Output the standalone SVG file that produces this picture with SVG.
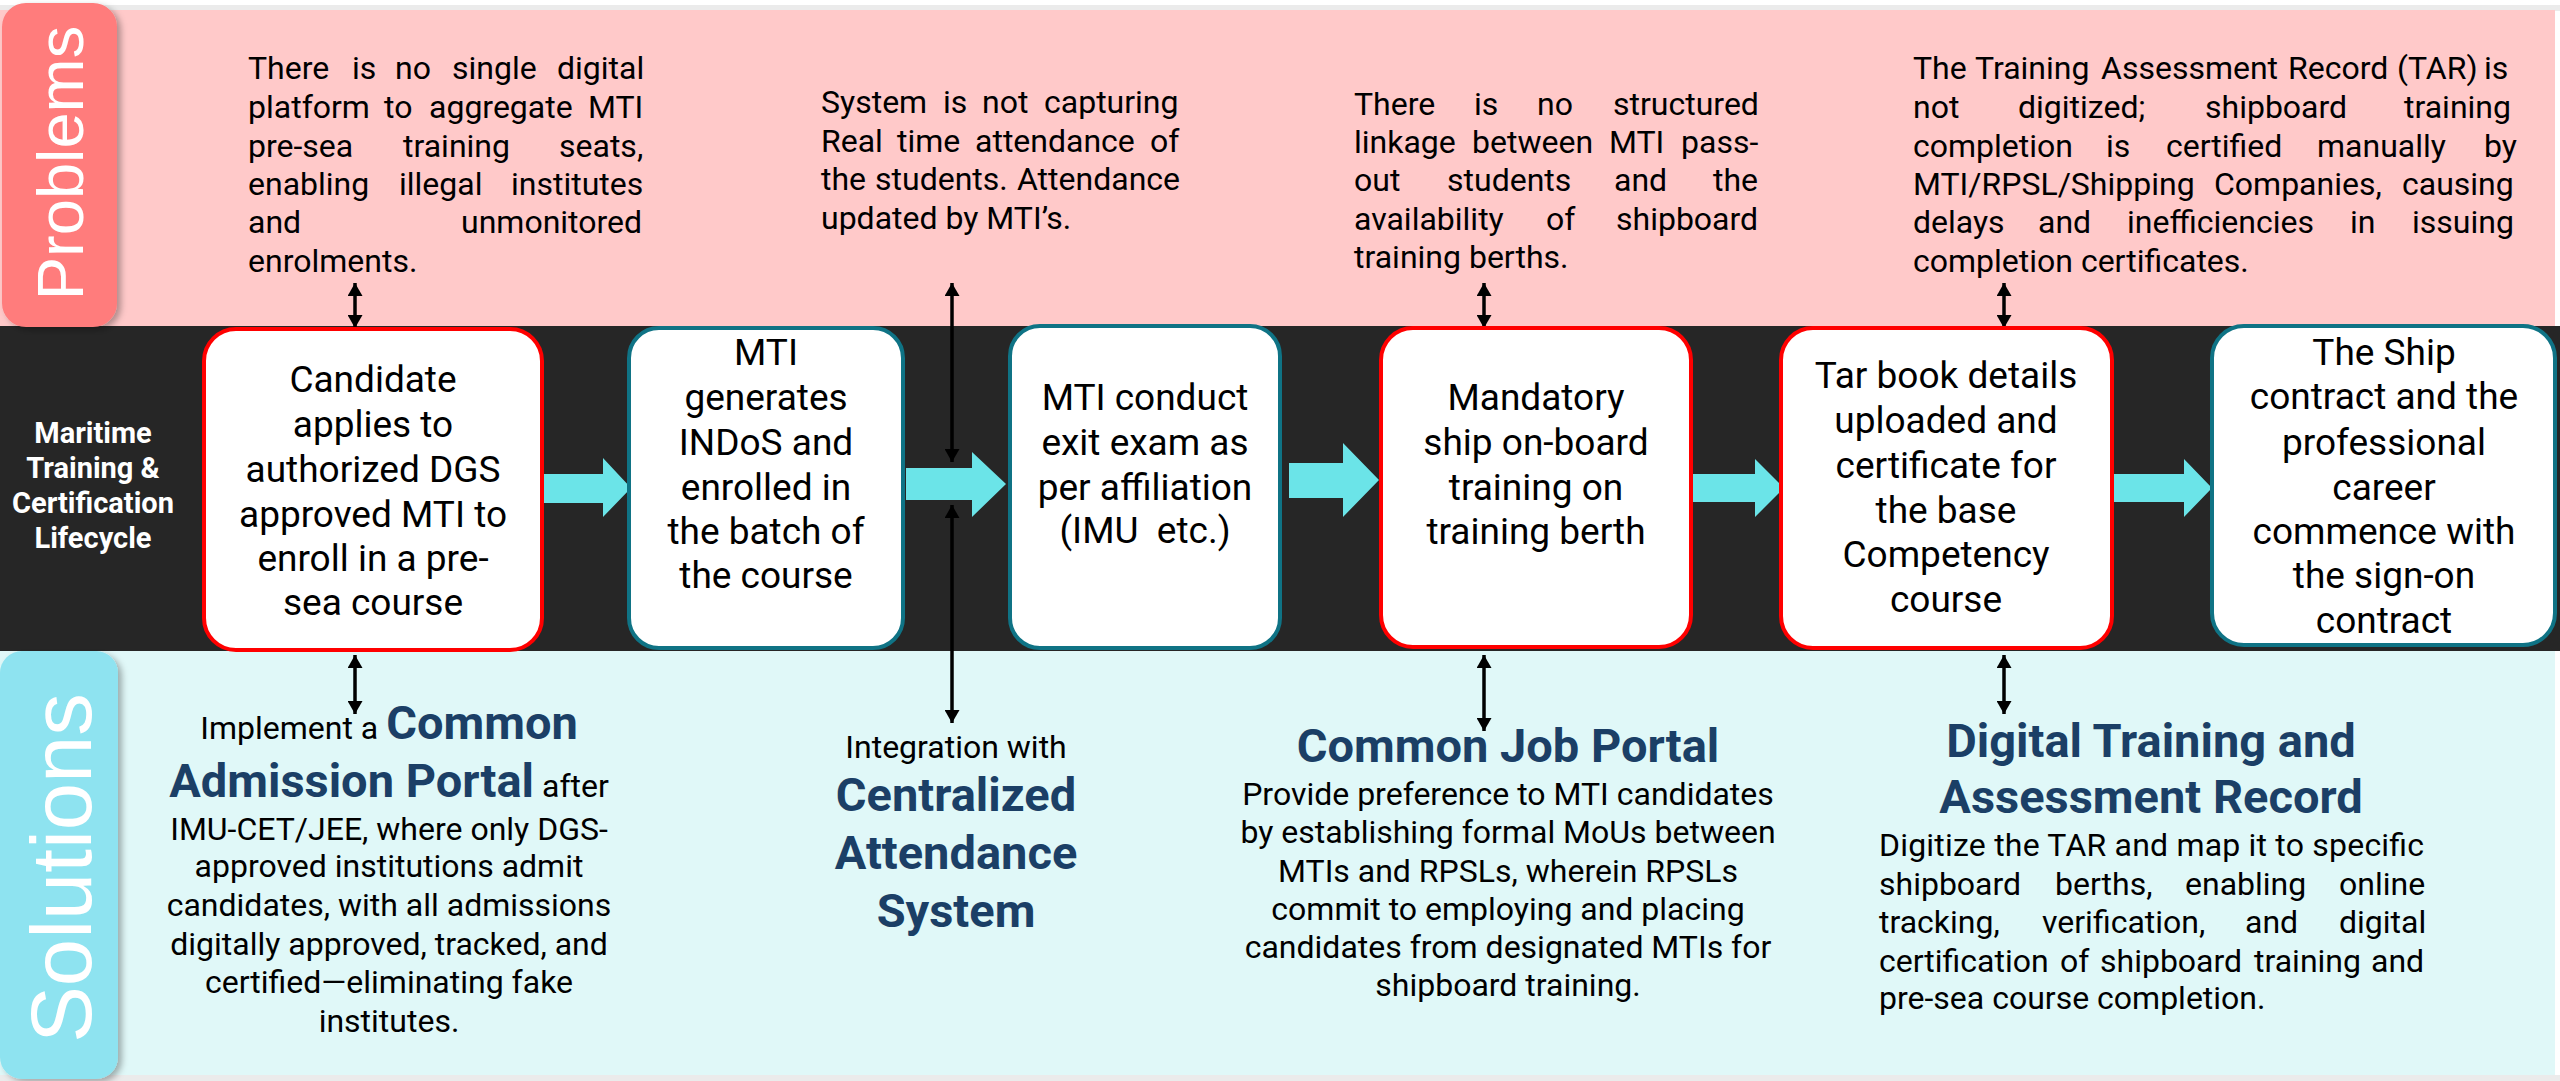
<svg xmlns="http://www.w3.org/2000/svg" width="2560" height="1081" viewBox="0 0 2560 1081">
<defs>
<style>
.reg{font-family:Roboto,"Liberation Sans",sans-serif;font-size:32px;font-weight:normal;fill:#000}
.box{font-family:Roboto,"Liberation Sans",sans-serif;font-size:37px;fill:#000;text-anchor:middle}
.ttl{font-family:Roboto,"Liberation Sans",sans-serif;font-size:47px;font-weight:bold;fill:#1B3F66}
.mid{text-anchor:middle}
.lbl{font-family:Roboto,"Liberation Sans",sans-serif;font-size:29px;font-weight:bold;fill:#fff;text-anchor:middle}
.tab{font-family:"Liberation Sans",Arial,sans-serif;fill:#fff;text-anchor:middle}
.redb{fill:#fff;stroke:#FF0000;stroke-width:4}
.tealb{fill:#fff;stroke:#0F7385;stroke-width:4}
.flow{fill:#6BE4E8}
.vc{stroke:#000;stroke-width:3.5;fill:none;marker-start:url(#ah);marker-end:url(#ah)}
</style>
<marker id="ah" viewBox="0 0 13 15" refX="13" refY="7.5" markerWidth="13" markerHeight="15" markerUnits="userSpaceOnUse" orient="auto-start-reverse">
<path d="M0,0 L13,7.5 L0,15 z" fill="#000"/>
</marker>
<filter id="sh" x="-20%" y="-20%" width="140%" height="140%">
<feDropShadow dx="4" dy="3" stdDeviation="3" flood-color="#000" flood-opacity="0.3"/>
</filter>
</defs>

<rect x="0" y="0" width="2560" height="1081" fill="#fff"/>
<rect x="0" y="5" width="2560" height="6" fill="#EBEBEB"/>
<rect x="0" y="1075" width="2560" height="6" fill="#EBEBEB"/>

<g id="bands">
<rect x="0" y="10" width="2555" height="318" fill="#FFC9C9"/>
<rect x="0" y="326" width="2560" height="325" fill="#262626"/>
<rect x="0" y="651" width="2555" height="424" fill="#E0F8F8"/>
</g>

<g id="problems-tab">
<rect x="2" y="3" width="115" height="324" rx="24" fill="#FF7B7B" filter="url(#sh)"/>
<text class="tab" font-size="65" transform="translate(83,163) rotate(-90)">Problems</text>
</g>
<g id="solutions-tab">
<rect x="0" y="651" width="118" height="428" rx="22" fill="#8EE3F0" filter="url(#sh)"/>
<text class="tab" font-size="85" transform="translate(91,868) rotate(-90)">Solutions</text>
</g>

<g id="lifecycle-label">
<text class="lbl" x="93" y="443">Maritime</text>
<text class="lbl" x="93" y="478">Training &amp;</text>
<text class="lbl" x="93" y="513">Certification</text>
<text class="lbl" x="93" y="548">Lifecycle</text>
</g>

<g id="connectors">
<polygon class="flow" points="542,474 603,474 603,458 631,488 603,517 603,503 542,503"/>
<polygon class="flow" points="906,468 972,468 972,452 1006,484 972,517 972,500 906,500"/>
<polygon class="flow" points="1289,463 1343,463 1343,443 1379,480 1343,517 1343,498 1289,498"/>
<polygon class="flow" points="1693,474 1755,474 1755,459 1784,488 1755,517 1755,502 1693,502"/>
<polygon class="flow" points="2114,474 2184,474 2184,459 2212,488 2184,517 2184,502 2114,502"/>
<line class="vc" x1="355" y1="283" x2="355" y2="328"/>
<line class="vc" x1="355" y1="655" x2="355" y2="714"/>
<line class="vc" x1="952" y1="283" x2="952" y2="462"/>
<line class="vc" x1="952" y1="505" x2="952" y2="723"/>
<line class="vc" x1="1484" y1="283" x2="1484" y2="328"/>
<line class="vc" x1="1484" y1="655" x2="1484" y2="731"/>
<line class="vc" x1="2004" y1="283" x2="2004" y2="328"/>
<line class="vc" x1="2004" y1="655" x2="2004" y2="714"/>
</g>

<g id="node1">
<rect class="redb" x="204" y="329" width="338" height="321" rx="32"/>
<text class="box" x="373" y="392">Candidate</text>
<text class="box" x="373" y="437">applies to</text>
<text class="box" x="373" y="482">authorized DGS</text>
<text class="box" x="373" y="527">approved MTI to</text>
<text class="box" x="373" y="571">enroll in a pre-</text>
<text class="box" x="373" y="615">sea course</text>
</g>
<g id="node2">
<rect class="tealb" x="629" y="328" width="274" height="320" rx="30"/>
<text class="box" x="766" y="365">MTI</text>
<text class="box" x="766" y="410">generates</text>
<text class="box" x="766" y="455">INDoS and</text>
<text class="box" x="766" y="500">enrolled in</text>
<text class="box" x="766" y="544">the batch of</text>
<text class="box" x="766" y="588">the course</text>
</g>
<g id="node3">
<rect class="tealb" x="1010" y="326" width="270" height="322" rx="30"/>
<text class="box" x="1145" y="410">MTI conduct</text>
<text class="box" x="1145" y="455">exit exam as</text>
<text class="box" x="1145" y="500">per affiliation</text>
<text class="box" x="1145" y="543" xml:space="preserve">(IMU  etc.)</text>
</g>
<g id="node4">
<rect class="redb" x="1381" y="328" width="310" height="319" rx="32"/>
<text class="box" x="1536" y="410">Mandatory</text>
<text class="box" x="1536" y="455">ship on-board</text>
<text class="box" x="1536" y="500">training on</text>
<text class="box" x="1536" y="544">training berth</text>
</g>
<g id="node5">
<rect class="redb" x="1781" y="328" width="331" height="320" rx="32"/>
<text class="box" x="1946" y="388">Tar book details</text>
<text class="box" x="1946" y="433">uploaded and</text>
<text class="box" x="1946" y="478">certificate for</text>
<text class="box" x="1946" y="523">the base</text>
<text class="box" x="1946" y="567">Competency</text>
<text class="box" x="1946" y="612">course</text>
</g>
<g id="node6">
<rect class="tealb" x="2212" y="326" width="343" height="319" rx="32"/>
<text class="box" x="2384" y="365">The Ship</text>
<text class="box" x="2384" y="409">contract and the</text>
<text class="box" x="2384" y="455">professional</text>
<text class="box" x="2384" y="500">career</text>
<text class="box" x="2384" y="544">commence with</text>
<text class="box" x="2384" y="588">the sign-on</text>
<text class="box" x="2384" y="633">contract</text>
</g>

<g id="problem1">
<text class="reg" y="79"><tspan x="248">There</tspan><tspan x="352">is</tspan><tspan x="395">no</tspan><tspan x="452">single</tspan><tspan x="557">digital</tspan></text>
<text class="reg" y="118"><tspan x="248">platform</tspan><tspan x="384">to</tspan><tspan x="429">aggregate</tspan><tspan x="588">MTI</tspan></text>
<text class="reg" y="157"><tspan x="248">pre-sea</tspan><tspan x="403">training</tspan><tspan x="559">seats,</tspan></text>
<text class="reg" y="195"><tspan x="248">enabling</tspan><tspan x="399">illegal</tspan><tspan x="511">institutes</tspan></text>
<text class="reg" y="233"><tspan x="248">and</tspan><tspan x="461">unmonitored</tspan></text>
<text class="reg" x="248" y="272">enrolments.</text>
</g>
<g id="problem2">
<text class="reg" y="113"><tspan x="821">System</tspan><tspan x="943">is</tspan><tspan x="982">not</tspan><tspan x="1044">capturing</tspan></text>
<text class="reg" y="152"><tspan x="821">Real</tspan><tspan x="897">time</tspan><tspan x="975">attendance</tspan><tspan x="1150">of</tspan></text>
<text class="reg" y="190"><tspan x="821">the</tspan><tspan x="875">students.</tspan><tspan x="1017">Attendance</tspan></text>
<text class="reg" x="821" y="229">updated by MTI’s.</text>
</g>
<g id="problem3">
<text class="reg" y="115"><tspan x="1354">There</tspan><tspan x="1474">is</tspan><tspan x="1537">no</tspan><tspan x="1613">structured</tspan></text>
<text class="reg" y="153"><tspan x="1354">linkage</tspan><tspan x="1472">between</tspan><tspan x="1609">MTI</tspan><tspan x="1681">pass-</tspan></text>
<text class="reg" y="191"><tspan x="1354">out</tspan><tspan x="1447">students</tspan><tspan x="1614">and</tspan><tspan x="1713">the</tspan></text>
<text class="reg" y="230"><tspan x="1354">availability</tspan><tspan x="1546">of</tspan><tspan x="1616">shipboard</tspan></text>
<text class="reg" x="1354" y="268">training berths.</text>
</g>
<g id="problem4">
<text class="reg" y="79"><tspan x="1913">The</tspan><tspan x="1975">Training</tspan><tspan x="2101">Assessment</tspan><tspan x="2288">Record</tspan><tspan x="2397">(TAR)</tspan><tspan x="2484">is</tspan></text>
<text class="reg" y="118"><tspan x="1913">not</tspan><tspan x="2018">digitized;</tspan><tspan x="2205">shipboard</tspan><tspan x="2404">training</tspan></text>
<text class="reg" y="157"><tspan x="1913">completion</tspan><tspan x="2106">is</tspan><tspan x="2166">certified</tspan><tspan x="2317">manually</tspan><tspan x="2484">by</tspan></text>
<text class="reg" y="195"><tspan x="1913">MTI/RPSL/Shipping</tspan><tspan x="2214">Companies,</tspan><tspan x="2402">causing</tspan></text>
<text class="reg" y="233"><tspan x="1913">delays</tspan><tspan x="2038">and</tspan><tspan x="2127">inefficiencies</tspan><tspan x="2350">in</tspan><tspan x="2412">issuing</tspan></text>
<text class="reg" x="1913" y="272">completion certificates.</text>
</g>

<g id="solution1">
<text class="reg mid" x="389" y="739">Implement a <tspan class="ttl">Common</tspan></text>
<text class="ttl mid" x="389" y="797">Admission Portal<tspan class="reg"> after</tspan></text>
<text class="reg mid" x="389" y="840">IMU-CET/JEE, where only DGS-</text>
<text class="reg mid" x="389" y="877">approved institutions admit</text>
<text class="reg mid" x="389" y="916">candidates, with all admissions</text>
<text class="reg mid" x="389" y="955">digitally approved, tracked, and</text>
<text class="reg mid" x="389" y="993">certified—eliminating fake</text>
<text class="reg mid" x="389" y="1032">institutes.</text>
</g>
<g id="solution2">
<text class="reg mid" x="956" y="758" font-size="29">Integration with</text>
<text class="ttl mid" x="956" y="811">Centralized</text>
<text class="ttl mid" x="956" y="869">Attendance</text>
<text class="ttl mid" x="956" y="927">System</text>
</g>
<g id="solution3">
<text class="ttl mid" x="1508" y="762">Common Job Portal</text>
<text class="reg mid" x="1508" y="805">Provide preference to MTI candidates</text>
<text class="reg mid" x="1508" y="843">by establishing formal MoUs between</text>
<text class="reg mid" x="1508" y="882">MTIs and RPSLs, wherein RPSLs</text>
<text class="reg mid" x="1508" y="920">commit to employing and placing</text>
<text class="reg mid" x="1508" y="958">candidates from designated MTIs for</text>
<text class="reg mid" x="1508" y="996">shipboard training.</text>
</g>
<g id="solution4">
<text class="ttl mid" x="2151" y="757">Digital Training and</text>
<text class="ttl mid" x="2151" y="813">Assessment Record</text>
<text class="reg" x="1879" y="856" textLength="545" lengthAdjust="spacing">Digitize the TAR and map it to specific</text>
<text class="reg" y="895"><tspan x="1879">shipboard</tspan><tspan x="2055">berths,</tspan><tspan x="2185">enabling</tspan><tspan x="2339">online</tspan></text>
<text class="reg" y="933"><tspan x="1879">tracking,</tspan><tspan x="2042">verification,</tspan><tspan x="2245">and</tspan><tspan x="2339">digital</tspan></text>
<text class="reg" y="972"><tspan x="1879">certification</tspan><tspan x="2060">of</tspan><tspan x="2100">shipboard</tspan><tspan x="2254">training</tspan><tspan x="2371">and</tspan></text>
<text class="reg" x="1879" y="1009">pre-sea course completion.</text>
</g>
</svg>
